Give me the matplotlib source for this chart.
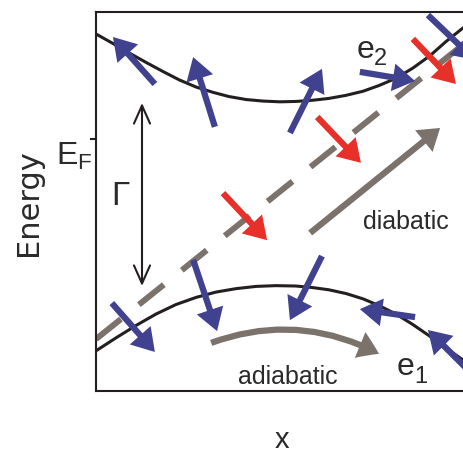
import matplotlib
matplotlib.use('Agg')
import matplotlib.pyplot as plt
from matplotlib.patches import FancyArrowPatch

# ---------------- data ----------------
upper_x = [0.0, 0.46, 0.90, 1.36, 1.82, 2.26, 2.72, 3.18, 3.61, 4.08, 4.54, 5.00,
           5.43, 5.87, 6.33, 6.79, 7.26, 7.69, 8.15, 8.61, 9.08, 9.51, 10.0]
upper_E = [9.42, 9.17, 8.92, 8.67, 8.43, 8.21, 8.02, 7.88, 7.77, 7.69, 7.65, 7.63,
           7.64, 7.67, 7.72, 7.80, 7.91, 8.06, 8.25, 8.52, 8.85, 9.22, 9.60]

lower_x = [0.0, 0.54, 1.09, 1.63, 2.17, 2.72, 3.26, 3.80, 4.35, 4.89, 5.43, 5.88,
           6.33, 6.80, 7.26, 7.70, 8.15, 8.60, 9.05, 9.50, 10.0]
lower_E = [1.06, 1.40, 1.73, 2.03, 2.28, 2.47, 2.61, 2.70, 2.76, 2.78, 2.77, 2.73,
           2.67, 2.57, 2.43, 2.25, 2.03, 1.76, 1.46, 1.14, 0.80]

diabatic_x = [0.0, 10.0]
diabatic_E = [1.37, 9.16]

E_F = 6.65
gap_x = 1.25
gap_E = [2.77, 7.60]

blue_tail = [(1.60, 8.10), (3.23, 6.97), (5.27, 6.81), (7.17, 8.42), (9.02, 9.92),
             (0.43, 2.32), (2.64, 3.46), (6.14, 3.56), (8.67, 1.95), (10.27, 0.40)]
blue_tip = [(0.46, 9.34), (2.64, 8.81), (6.14, 8.50), (8.67, 8.18), (10.30, 8.73),
            (1.60, 1.03), (3.29, 1.58), (5.27, 1.87), (7.17, 2.16), (9.02, 1.61)]

red_tail = [(3.45, 5.22), (6.01, 7.23), (8.61, 9.29)]
red_tip = [(4.65, 3.98), (7.20, 6.02), (9.78, 8.10)]

diab_arrow = [(5.82, 4.17), (9.35, 6.94)]
adiab_arrow = [(3.13, 1.27), (7.69, 0.98)]

# ---------------- style ----------------
BLACK = '#231f20'
GRAY = '#7a726b'
BLUE = '#40418f'
RED = '#e7302a'
TXT = '#2a2a2a'
SANS = ['Liberation Sans', 'DejaVu Sans']

W, H = 464, 457
fig = plt.figure(figsize=(W / 100, H / 100), dpi=100)
ax = fig.add_axes([96 / W, 66 / H, 368 / W, 379 / H])
ax.set_xlim(0, 10)
ax.set_ylim(0, 10)

for s in ['left', 'top', 'bottom']:
    ax.spines[s].set_linewidth(1.5)
    ax.spines[s].set_color(BLACK)
ax.spines['right'].set_visible(False)
ax.set_xticks([])
ax.set_yticks([E_F])
ax.set_yticklabels([''])
ax.tick_params(axis='y', direction='out', length=4.5, width=1.5, color=BLACK)

# diabatic dashed line
ax.plot(diabatic_x, diabatic_E, color=GRAY, lw=4.3, dashes=(5.35, 3.86),
        dash_capstyle='butt', zorder=1)
# adiabatic curves
ax.plot(upper_x, upper_E, color=BLACK, lw=2.2, zorder=2, solid_joinstyle='round')
ax.plot(lower_x, lower_E, color=BLACK, lw=2.2, zorder=2, solid_joinstyle='round')

# gap arrow
ax.add_patch(FancyArrowPatch((gap_x, gap_E[0]), (gap_x, gap_E[1]),
                             arrowstyle='<->,head_length=13,head_width=5.8',
                             mutation_scale=1, lw=1.5, color=BLACK,
                             shrinkA=0, shrinkB=0, zorder=2))

spin_style = 'simple,head_length=16,head_width=20,tail_width=4.5'
for (t, h) in zip(blue_tail, blue_tip):
    ax.add_patch(FancyArrowPatch(t, h, arrowstyle=spin_style, mutation_scale=1,
                                 lw=0, color=BLUE, shrinkA=0, shrinkB=0, zorder=4))
for (t, h) in zip(red_tail, red_tip):
    ax.add_patch(FancyArrowPatch(t, h, arrowstyle=spin_style, mutation_scale=1,
                                 lw=0, color=RED, shrinkA=0, shrinkB=0, zorder=4))

gray_style = 'simple,head_length=15,head_width=20,tail_width=4.5'
ax.add_patch(FancyArrowPatch(diab_arrow[0], diab_arrow[1], arrowstyle=gray_style,
                             mutation_scale=1, lw=0, color=GRAY,
                             shrinkA=0, shrinkB=0, zorder=3))
ax.add_patch(FancyArrowPatch(adiab_arrow[0], adiab_arrow[1], arrowstyle=gray_style,
                             connectionstyle='arc3,rad=-0.22',
                             mutation_scale=1, lw=0, color=GRAY,
                             shrinkA=0, shrinkB=0, zorder=3))

# labels inside the axes
ax.text(7.25, 4.27, 'diabatic', family=SANS, fontsize=18, color=TXT,
        ha='left', va='baseline')
ax.text(3.86, 0.18, 'adiabatic', family=SANS, fontsize=18, color=TXT,
        ha='left', va='baseline')
ax.text(7.08, 8.79, 'e', family=SANS, fontsize=23, color=TXT, ha='left', va='baseline')
ax.text(7.54, 8.60, '2', family=SANS, fontsize=17, color=TXT, ha='left', va='baseline')
ax.text(8.16, 0.42, 'e', family=SANS, fontsize=23, color=TXT, ha='left', va='baseline')
ax.text(8.64, 0.21, '1', family=SANS, fontsize=17, color=TXT, ha='left', va='baseline')
ax.text(0.42, 4.91, 'Γ', family=SANS, fontsize=24, color=TXT, ha='left', va='baseline')

# labels outside the axes
fig.text(56 / W, 1 - 165 / H, r'$\mathregular{E_F}$', family=SANS, fontsize=23,
         color=TXT, ha='left', va='baseline')
fig.text(29 / W, 1 - 203 / H, 'Energy', family=['DejaVu Sans'], fontsize=22,
         color=TXT, rotation=90, ha='center', va='center')
fig.text(282 / W, 1 - 448 / H, 'x', family=SANS, fontsize=21, color=TXT,
         ha='center', va='baseline')

fig.savefig('out.png', dpi=100)
